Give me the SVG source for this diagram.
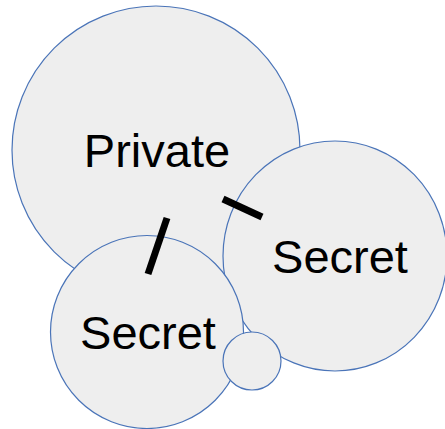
<svg xmlns="http://www.w3.org/2000/svg" width="445" height="429" viewBox="0 0 445 429">
<style>
.c{fill:#eeeeee;stroke:#4a74b8;stroke-width:1.2}
.t{font-family:"Liberation Sans",Arial,sans-serif;font-size:47px;fill:#000;text-anchor:middle}
.l{stroke:#000;stroke-width:7;stroke-linecap:butt}
</style>
<rect width="445" height="429" fill="#fff"/>
<g id="private"><circle class="c" cx="156" cy="150" r="144"/><text class="t" x="157" y="167">Private</text></g>
<g id="secret-right"><ellipse class="c" cx="335" cy="256" rx="112" ry="115"/><text class="t" x="340" y="273">Secret</text></g>
<g id="secret-left"><circle class="c" cx="147" cy="332" r="96.5"/><text class="t" x="148" y="349">Secret</text></g>
<g id="small"><circle class="c" cx="252" cy="361" r="29"/></g>
<g id="connectors">
<line class="l" x1="167" y1="218" x2="148" y2="274"/>
<line class="l" x1="223" y1="199" x2="262" y2="217"/>
</g>
</svg>
